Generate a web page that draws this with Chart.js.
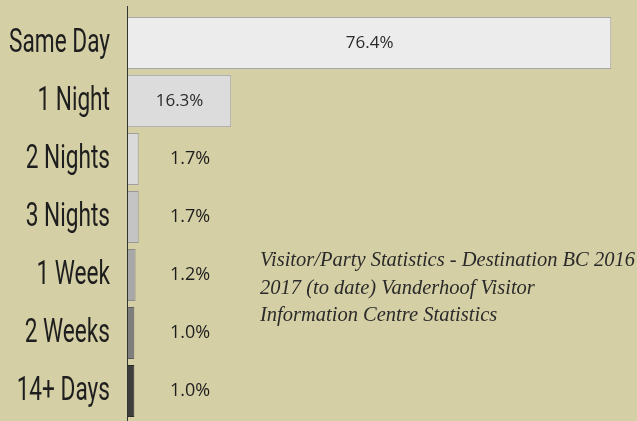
<!DOCTYPE html>
<html lang="en">
<head>
    <meta charset="UTF-8">
    <title>Length of Stay</title>
    <script src="https://cdn.jsdelivr.net/npm/chart.js"></script>
    <style>
        html, body { margin: 0; padding: 0; background: #d5cfa5; }
        .wrap { position: relative; width: 637px; height: 421px; }
        .note {
            position: absolute; left: 260px; top: 246px;
            font-family: "Liberation Serif", "DejaVu Serif", serif;
            font-style: italic; font-size: 20.5px; line-height: 27.5px;
            color: #2a2a2a; white-space: nowrap;
        }
    </style>
</head>
<body>
    <div class="wrap">
        <canvas id="myChart" width="637" height="421"></canvas>
        <div class="note">Visitor/Party Statistics - Destination BC 2016<br>2017 (to date) Vanderhoof Visitor<br>Information Centre Statistics</div>
    </div>

    <script>
        // data
        const categories = ['Same Day', '1 Night', '2 Nights', '3 Nights', '1 Week', '2 Weeks', '14+ Days'];
        const shares = [76.4, 16.3, 1.7, 1.7, 1.2, 1.0, 1.0];
        const barColors = ['#ececec', '#dcdcdc', '#dadada', '#c4c4c4', '#a8a8a8', '#7e7e7e', '#3e3e3e'];
        const borderColors = ['#a8a8a8', '#b0b0b0', '#a0a0a0', '#999999', '#8c8c8c', '#5e5e5e', '#2a2a2a'];

        // category names (condensed look) + value labels + the axis line
        const labelsPlugin = {
            id: 'labelsPlugin',
            afterDatasetsDraw(chart) {
                const c = chart.ctx;
                const meta = chart.getDatasetMeta(0);
                const x0 = chart.scales.x.getPixelForValue(0);
                c.save();
                c.fillStyle = '#1e1e1e';
                c.textBaseline = 'middle';

                // category labels, squeezed horizontally like the original condensed face
                c.font = '33px Roboto, sans-serif';
                const squeeze = 101 / c.measureText('Same Day').width;
                c.textAlign = 'right';
                meta.data.forEach((bar, i) => {
                    c.save();
                    c.translate(110, bar.y + 1);
                    c.scale(squeeze, 1);
                    c.fillText(categories[i], 0, 0);
                    c.restore();
                });

                c.textAlign = 'center';
                meta.data.forEach((bar, i) => {
                    const wide = bar.x - x0 > 60;
                    c.fillStyle = wide ? '#2a2a2a' : '#1e1e1e';
                    c.font = wide ? '17px "Open Sans", sans-serif' : '18px "Open Sans", sans-serif';
                    const x = wide ? (x0 + bar.x) / 2 : x0 + 62;
                    c.fillText(shares[i].toFixed(1) + '%', x, bar.y);
                });

                // axis line runs a bit above the first bar
                c.strokeStyle = '#333';
                c.lineWidth = 1;
                c.beginPath();
                c.moveTo(x0 - 0.5, 6);
                c.lineTo(x0 - 0.5, 421);
                c.stroke();
                c.restore();
            }
        };

        const ctx = document.getElementById('myChart').getContext('2d');
        const chart = new Chart(ctx, {
            type: 'bar',
            data: {
                labels: categories,
                datasets: [{
                    data: shares,
                    backgroundColor: barColors,
                    borderColor: borderColors,
                    borderWidth: 1,
                    borderSkipped: 'left',
                    categoryPercentage: 1,
                    barPercentage: 0.9
                }]
            },
            options: {
                indexAxis: 'y',
                responsive: false,
                animation: false,
                layout: { padding: { left: 128, top: 14, bottom: 1, right: 3 } },
                plugins: { legend: { display: false }, tooltip: { enabled: false } },
                scales: {
                    x: { display: false, min: 0, max: 80 },
                    y: { display: false }
                }
            },
            plugins: [labelsPlugin]
        });
    </script>
</body>
</html>
